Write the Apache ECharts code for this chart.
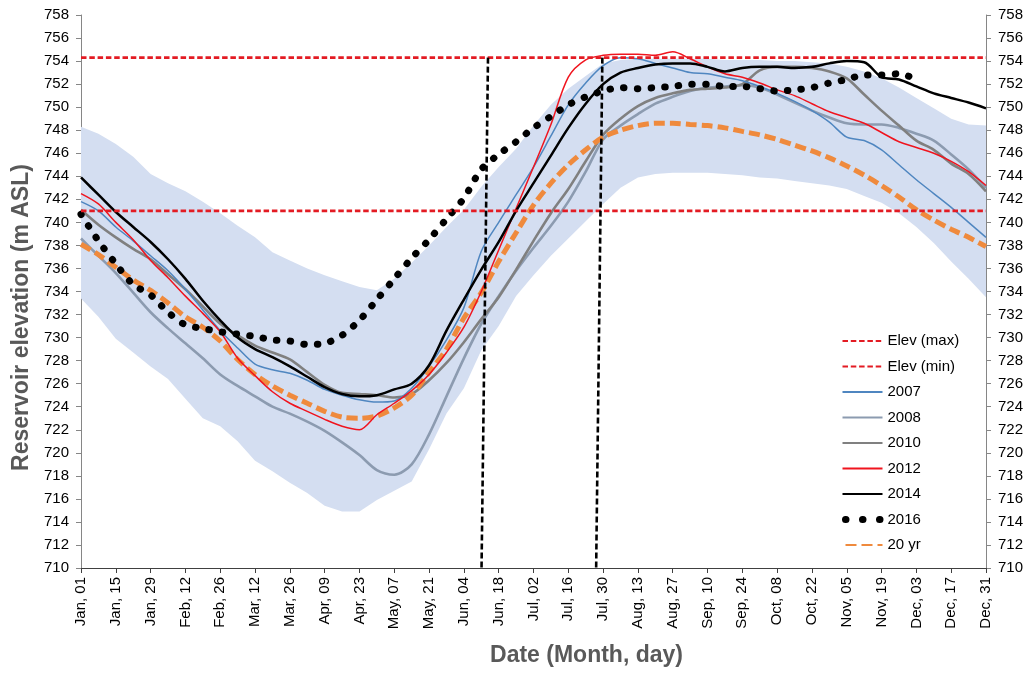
<!DOCTYPE html>
<html><head><meta charset="utf-8">
<script src="https://cdn.jsdelivr.net/npm/echarts@6/dist/echarts.min.js"></script>
<style>html,body{margin:0;padding:0;background:#fff}#c{width:1028px;height:673px}</style>
</head><body><div id="c"></div>
<script>
// ---- data ----
const tickLabels = ['Jan, 01','Jan, 15','Jan, 29','Feb, 12','Feb, 26','Mar, 12','Mar, 26','Apr, 09','Apr, 23','May, 07','May, 21','Jun, 04','Jun, 18','Jul, 02','Jul, 16','Jul, 30','Aug, 13','Aug, 27','Sep, 10','Sep, 24','Oct, 08','Oct, 22','Nov, 05','Nov, 19','Dec, 03','Dec, 17','Dec, 31'];
const days = [0,7,14,21,28,35,42,49,56,63,70,77,84,91,98,105,112,119,126,133,140,147,154,161,168,175,182,189,196,203,210,217,224,231,238,245,252,259,266,273,280,287,294,301,308,315,322,329,336,343,350,357,364];
const bandUpper = [748.3,747.7,746.8,745.7,744.2,743.4,742.7,741.8,740.8,739.7,738.7,737.4,736.7,736.0,735.4,734.9,734.4,734.1,735.1,736.5,738.0,739.6,741.1,743.1,744.8,746.4,748.4,750.2,751.6,752.7,753.8,754.1,754.2,754.2,754.2,754.2,754.2,754.1,754.1,754.1,754.0,754.0,753.9,753.8,753.5,753.1,752.5,751.7,750.8,749.9,749.0,748.5,748.4];
const bandLower = [733.4,731.8,729.9,728.7,727.5,726.4,724.7,723.0,722.3,721.0,719.3,718.4,717.4,716.5,715.4,714.9,714.9,715.9,716.7,717.5,720.3,723.4,725.6,728.9,731.0,733.6,735.4,737.1,738.6,740.1,741.6,743.0,743.9,744.2,744.3,744.3,744.3,744.2,744.1,743.9,743.8,743.6,743.4,743.2,742.9,742.3,741.7,740.8,739.6,738.2,736.6,735.1,733.5];
const y2007 = [741.8,741.0,739.6,738.4,737.1,735.8,734.2,732.4,730.6,729.1,727.7,727.2,726.9,726.3,725.5,725.0,724.6,724.4,724.5,725.6,727.5,729.8,732.6,737.5,740.0,742.4,744.8,747.5,750.2,752.1,753.6,754.3,754.2,753.8,753.4,753.0,752.9,752.6,752.3,751.8,751.2,750.5,749.7,748.7,747.4,747.1,746.3,745.0,743.7,742.5,741.3,740.0,738.7];
const y2008 = [738.6,737.1,735.6,733.9,732.2,730.8,729.5,728.2,726.8,725.8,724.9,724.0,723.4,722.7,721.9,720.9,719.8,718.5,718.1,719.0,721.6,724.9,728.2,731.2,733.6,735.8,737.8,739.7,741.8,744.4,747.2,748.4,749.4,750.3,750.9,751.4,751.7,751.8,751.9,751.7,751.1,750.4,749.7,749.1,748.6,748.5,748.5,748.2,747.7,747.1,745.9,744.6,743.0];
const y2010 = [741.1,739.8,738.7,737.7,736.8,735.5,734.2,732.7,731.2,730.2,729.3,728.7,728.1,727.0,725.9,725.2,725.1,725.0,724.8,725.1,726.3,727.8,729.6,731.6,733.5,735.9,738.4,740.8,742.9,745.3,747.6,749.0,750.1,750.8,751.2,751.5,751.6,751.7,752.0,753.2,753.5,753.5,753.4,753.1,752.5,751.1,749.7,748.4,747.1,746.3,745.1,744.2,742.7];
const y2012 = [742.5,741.6,740.0,738.5,736.7,735.2,733.6,732.1,730.5,728.2,726.7,725.3,724.3,723.6,722.9,722.3,722.0,723.3,724.3,725.4,726.8,728.7,730.9,734.0,737.6,741.2,744.8,748.5,752.6,754.1,754.5,754.6,754.6,754.5,754.8,754.2,753.5,752.9,752.6,752.1,751.5,751.0,750.3,749.6,749.1,748.6,747.8,747.0,746.5,746.0,745.3,744.4,743.2];
const y2014 = [743.9,742.4,740.9,739.6,738.3,736.8,735.1,733.2,731.5,730.0,729.0,728.3,727.5,726.6,725.7,725.1,724.9,725.0,725.5,726.0,727.6,730.6,733.3,735.9,738.3,741.0,743.4,745.8,748.2,750.3,752.0,753.0,753.4,753.7,753.8,753.8,753.5,753.1,753.4,753.5,753.5,753.4,753.5,753.8,754.0,753.9,752.6,752.4,751.8,751.2,750.8,750.4,749.9];
const y2016 = [740.7,738.4,736.4,734.6,733.7,732.2,731.1,730.8,730.5,730.3,730.1,729.8,729.7,729.4,729.5,730.2,731.5,733.3,735.1,736.9,738.5,740.3,742.1,744.6,745.9,747.0,748.2,749.2,750.2,750.9,751.4,751.7,751.6,751.7,751.8,752.0,752.0,751.8,751.8,751.6,751.4,751.5,751.7,752.1,752.4,752.8,752.8,752.9,752.4,null,null,null,null];
const y20yr = [738.1,737.2,736.1,735.0,734.1,733.0,731.8,730.9,729.7,728.1,726.8,725.8,725.0,724.3,723.6,723.1,723.0,723.2,723.9,725.0,727.0,729.0,731.7,733.9,736.6,739.1,741.5,743.4,745.0,746.3,747.4,748.0,748.4,748.6,748.6,748.5,748.4,748.2,747.9,747.6,747.2,746.7,746.2,745.6,744.9,744.1,743.2,742.2,741.1,740.2,739.4,738.7,737.9];
const elevMax = 754.3, elevMin = 741.0;
const xMin = 0, xMax = 364, xStep = 14;
const yMin = 710, yMax = 758, yStep = 2;
// vertical dashed markers: [day at top (elevMax), day at bottom (yMin)]
const markerDays = [[163.7, 161.1], [209.7, 207.2]];

// ---- chart ----
const FONT = 'Liberation Sans, Arial, sans-serif';
const pair = arr => days.map((d, i) => [d, arr[i]]);
const SM = 0.3;
function line(name, arr, color, width, extra) {
  return Object.assign({
    type: 'line', name: name, data: pair(arr), smooth: SM, symbol: 'none', showSymbol: false,
    connectNulls: false, animation: false,
    lineStyle: { color: color, width: width }, itemStyle: { color: color }, z: 3
  }, extra || {});
}
const series = [
  { type: 'custom', name: 'band', silent: true, z: 1, animation: false,
    dimensions: ['x', 'y'], encode: { x: 0, y: 1 },
    data: [[days[0], bandLower[0]]],
    renderItem: function (params, api) {
      if (params.dataIndex !== 0) return null;
      const pts = [];
      for (let i = 0; i < days.length; i++) pts.push(api.coord([days[i], bandUpper[i]]));
      for (let i = days.length - 1; i >= 0; i--) pts.push(api.coord([days[i], bandLower[i]]));
      return { type: 'polygon', shape: { points: pts }, style: { fill: '#D4DEF1', stroke: null } };
    }
  },
  { type: 'line', name: 'Elev (max)', data: [[xMin, elevMax], [xMax, elevMax]], symbol: 'none', z: 4, animation: false,
    lineStyle: { color: '#E31B23', width: 2.8, type: [5.5, 2.8] }, itemStyle: { color: '#E31B23' } },
  { type: 'line', name: 'Elev (min)', data: [[xMin, elevMin], [xMax, elevMin]], symbol: 'none', z: 4, animation: false,
    lineStyle: { color: '#E31B23', width: 2.8, type: [5.5, 2.8] }, itemStyle: { color: '#E31B23' } },
  line('2008', y2008, '#8C9BB0', 2.6),
  line('2010', y2010, '#808080', 2.6),
  line('2007', y2007, '#4F86C0', 1.5),
  line('20 yr', y20yr, '#EF8A3D', 5, { lineStyle: { color: '#EF8A3D', width: 5, type: [11, 5] } }),
  line('2012', y2012, '#F0141E', 1.5),
  line('2014', y2014, '#000000', 2.5),
  line('2016', y2016, '#000000', 7, { lineStyle: { color: '#000', width: 7, type: [0.5, 13.2], cap: 'round' } })
];
markerDays.forEach((m, k) => {
  series.push({ type: 'line', name: 'marker' + k, data: [[m[0], elevMax], [m[1], yMin]], symbol: 'none', z: 5,
    animation: false, silent: true, lineStyle: { color: '#000', width: 2.6, type: [6, 3] } });
});

const yAxisCommon = {
  type: 'value', min: yMin, max: yMax, interval: yStep,
  axisLine: { show: true, lineStyle: { color: '#868686', width: 1 } },
  axisTick: { show: true, length: 5, inside: false, lineStyle: { color: '#868686' } },
  splitLine: { show: false },
  axisLabel: { fontSize: 15, color: '#000', fontFamily: FONT, margin: 12 }
};

const legendNames = ['Elev (max)', 'Elev (min)', '2007', '2008', '2010', '2012', '2014', '2016', '20 yr'];
const option = {
  animation: false,
  backgroundColor: '#fff',
  textStyle: { fontFamily: FONT },
  grid: { left: 81, right: 42, top: 15, bottom: 105, containLabel: false, outerBoundsMode: 'none' },
  legend: {
    orient: 'vertical', left: 834, top: 328, itemWidth: 40, itemHeight: 16, itemGap: 9.5,
    itemStyle: { opacity: 0 },
    textStyle: { fontSize: 15, color: '#000', fontFamily: FONT, lineHeight: 16 },
    data: legendNames.map(n => n === '2016'
      ? { name: n, lineStyle: { width: 7, type: [0.5, 16.5], dashOffset: -3, cap: 'round', color: '#000' }, itemStyle: { opacity: 0 } }
      : { name: n, itemStyle: { opacity: 0 } }),
    selectedMode: false
  },
  xAxis: {
    type: 'value', min: xMin, max: xMax, interval: xStep,
    name: 'Date (Month, day)', nameLocation: 'middle', nameGap: 76,
    nameTextStyle: { fontSize: 23, fontWeight: 'bold', color: '#595959', fontFamily: FONT, padding: [0, 0, 0, 106] },
    axisLine: { show: true, onZero: false, lineStyle: { color: '#404040', width: 1 } },
    axisTick: { show: true, length: 5, lineStyle: { color: '#404040' } },
    splitLine: { show: false },
    axisLabel: { rotate: 90, fontSize: 15, color: '#000', fontFamily: FONT, margin: 9, hideOverlap: false,
      showMinLabel: true, showMaxLabel: true,
      formatter: v => tickLabels[Math.round((v - xMin) / xStep)] || '' }
  },
  yAxis: [
    Object.assign({}, yAxisCommon, {
      position: 'left', name: 'Reservoir elevation (m ASL)', nameLocation: 'middle', nameGap: 46,
      nameTextStyle: { fontSize: 23, fontWeight: 'bold', color: '#595959', fontFamily: FONT, padding: [0, 52, 0, 0] }
    }),
    Object.assign({}, yAxisCommon, { position: 'right' })
  ],
  series: series
};
const chart = echarts.init(document.getElementById('c'), null, { renderer: 'canvas' });
chart.setOption(option);
</script>
</body></html>
